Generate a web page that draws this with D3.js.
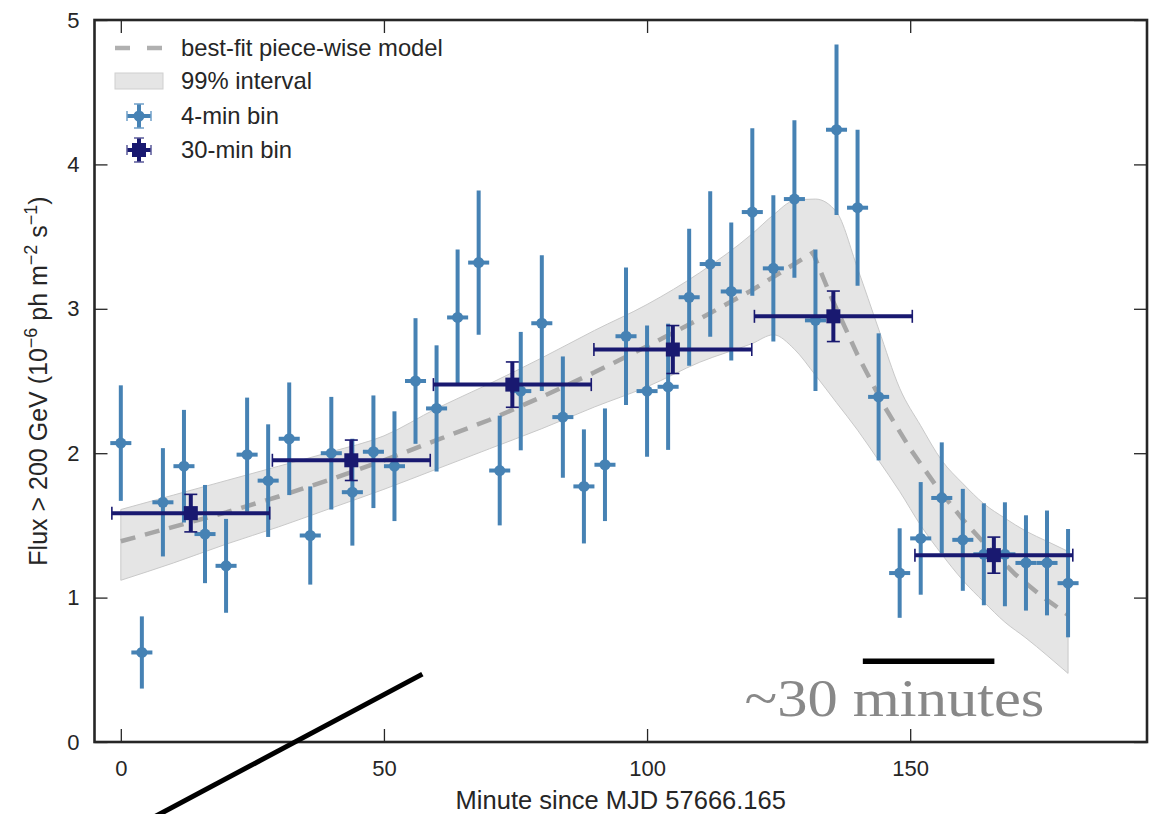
<!DOCTYPE html>
<html>
<head>
<meta charset="utf-8">
<script src="https://cdn.jsdelivr.net/npm/d3@7"></script>
<style>
  body { margin: 0; background: #fff; }
  svg text { font-family: "Liberation Sans", Arial, Helvetica, sans-serif; fill: #262626; }
</style>
</head>
<body>
<svg id="chart" width="1161" height="814"></svg>
<script>
// ---- 4-minute bins ----
const minutes4 = [0, 4, 8, 12, 16, 20, 24, 28, 32, 36, 40, 44, 48, 52, 56, 60, 64, 68, 72, 76,
                  80, 84, 88, 92, 96, 100, 104, 108, 112, 116, 120, 124, 128, 132, 136, 140,
                  144, 148, 152, 156, 160, 164, 168, 172, 176, 180];
const flux4 = [2.07, 0.62, 1.66, 1.91, 1.44, 1.22, 1.99, 1.81, 2.10, 1.43, 2.00, 1.73, 2.01, 1.91,
               2.50, 2.31, 2.94, 3.32, 1.88, 2.43, 2.90, 2.25, 1.77, 1.92, 2.81, 2.43, 2.46, 3.08,
               3.31, 3.12, 3.67, 3.28, 3.76, 2.92, 4.24, 3.70, 2.39, 1.17, 1.41, 1.69, 1.40, 1.30,
               1.30, 1.24, 1.24, 1.10];
const fluxErr4 = [0.40, 0.25, 0.375, 0.39, 0.34, 0.325, 0.395, 0.39, 0.39, 0.34, 0.39, 0.37, 0.39,
                  0.38, 0.435, 0.437, 0.47, 0.50, 0.38, 0.41, 0.47, 0.42, 0.395, 0.39, 0.476, 0.455,
                  0.437, 0.474, 0.504, 0.478, 0.58, 0.507, 0.545, 0.49, 0.59, 0.54, 0.44, 0.31, 0.39,
                  0.385, 0.353, 0.353, 0.36, 0.33, 0.363, 0.375];
const binHalf4 = 2;

// ---- 30-minute bins ----
const minutes30 = [13.3, 43.8, 74.4, 104.9, 135.4, 165.9];
const flux30 = [1.585, 1.951, 2.475, 2.718, 2.948, 1.294];
const fluxErr30 = [0.13, 0.14, 0.157, 0.166, 0.175, 0.125];
const binHalf30 = 15;

// ---- best-fit piece-wise model ----
const modelMinutes = [0, 10, 20, 30, 40, 50, 60, 70, 80, 90, 100, 110, 120, 131.5,
                      135, 140, 145, 150, 155, 160, 165, 170, 175, 180];
const modelFlux = [1.39, 1.49, 1.59, 1.70, 1.82, 1.95, 2.09, 2.23, 2.39, 2.56, 2.74, 2.93, 3.13, 3.39,
                   3.08, 2.68, 2.33, 2.03, 1.77, 1.54, 1.34, 1.16, 1.01, 0.88];

// ---- 99% interval ----
const bandMinutes = [0, 10, 20, 30, 40, 50, 60, 70, 80, 90, 100, 110, 120, 124, 128, 132, 136, 140,
                     144, 148, 152, 156, 160, 164, 168, 172, 176, 180];
const bandHigh = [1.61, 1.71, 1.81, 1.91, 2.01, 2.12, 2.31, 2.48, 2.66, 2.85, 3.03, 3.25, 3.52, 3.65,
                  3.75, 3.76, 3.67, 3.28, 2.86, 2.45, 2.19, 1.95, 1.79, 1.65, 1.55, 1.46, 1.39, 1.32];
const bandLow = [1.12, 1.24, 1.37, 1.49, 1.62, 1.75, 1.89, 2.03, 2.17, 2.32, 2.46, 2.63, 2.76, 2.82,
                 2.72, 2.54, 2.35, 2.16, 1.95, 1.735, 1.50, 1.30, 1.12, 0.97, 0.83, 0.72, 0.60, 0.475];

// ---- axis ticks and labels ----
const xTicks = [0, 50, 100, 150];
const yTicks = [0, 1, 2, 3, 4, 5];
const legendLabels = ["best-fit piece-wise model", "99% interval", "4-min bin", "30-min bin"];

// ---- annotations (data units) ----
const slashLine = [[57.3, 0.47], [-4, -0.72]];
const scaleBar = [[141, 0.56], [166, 0.56]];
const scaleText = { minute: 147, flux: 0.18, label: "~30 minutes" };

// ---------------------------------------------------------------
const W = 1161, H = 814;
const plot = { left: 94.5, right: 1147, top: 20, bottom: 742 };
const C4 = "#4682b4", C30 = "#191970";

const svg = d3.select("#chart");
svg.append("rect").attr("width", W).attr("height", H).attr("fill", "#fff");

const x = d3.scaleLinear().domain([-5, 195]).range([plot.left, plot.right]);
const y = d3.scaleLinear().domain([0, 5]).range([plot.bottom, plot.top]);

// interval band
const band = bandMinutes.map((m, i) => ({ m, lo: bandLow[i], hi: bandHigh[i] }));
svg.append("path")
  .datum(band)
  .attr("d", d3.area().x(d => x(d.m)).y0(d => y(d.lo)).y1(d => y(d.hi)).curve(d3.curveMonotoneX))
  .attr("fill", "#e5e5e5")
  .attr("stroke", "#c9c9c9")
  .attr("stroke-width", 1);

// model
svg.append("path")
  .datum(modelMinutes.map((m, i) => [m, modelFlux[i]]))
  .attr("d", d3.line().x(d => x(d[0])).y(d => y(d[1])))
  .attr("fill", "none")
  .attr("stroke", "#a6a6a6")
  .attr("stroke-width", 4.5)
  .attr("stroke-dasharray", "15,10");

// 4-min points
const g4 = svg.append("g");
const pts4 = minutes4.map((m, i) => ({ m, f: flux4[i], e: fluxErr4[i] }));
const p4 = g4.selectAll("g").data(pts4).join("g");
p4.append("line")
  .attr("x1", d => x(d.m)).attr("x2", d => x(d.m))
  .attr("y1", d => y(d.f - d.e)).attr("y2", d => y(d.f + d.e))
  .attr("stroke", C4).attr("stroke-width", 4);
p4.append("line")
  .attr("x1", d => x(d.m - binHalf4)).attr("x2", d => x(d.m + binHalf4))
  .attr("y1", d => y(d.f)).attr("y2", d => y(d.f))
  .attr("stroke", C4).attr("stroke-width", 4);
p4.append("circle")
  .attr("cx", d => x(d.m)).attr("cy", d => y(d.f)).attr("r", 5.5)
  .attr("fill", C4);

// 30-min points
const g30 = svg.append("g");
const pts30 = minutes30.map((m, i) => ({ m, f: flux30[i], e: fluxErr30[i] }));
const p30 = g30.selectAll("g").data(pts30).join("g");
p30.append("line")
  .attr("x1", d => x(d.m - binHalf30)).attr("x2", d => x(d.m + binHalf30))
  .attr("y1", d => y(d.f)).attr("y2", d => y(d.f))
  .attr("stroke", C30).attr("stroke-width", 4);
p30.append("line")
  .attr("x1", d => x(d.m)).attr("x2", d => x(d.m))
  .attr("y1", d => y(d.f - d.e)).attr("y2", d => y(d.f + d.e))
  .attr("stroke", C30).attr("stroke-width", 4);
// caps
const capHalf = 6.5;
p30.each(function (d) {
  const g = d3.select(this);
  [d.f - d.e, d.f + d.e].forEach(v => {
    g.append("line")
      .attr("x1", x(d.m) - capHalf).attr("x2", x(d.m) + capHalf)
      .attr("y1", y(v)).attr("y2", y(v))
      .attr("stroke", C30).attr("stroke-width", 1.6);
  });
  [d.m - binHalf30, d.m + binHalf30].forEach(m => {
    g.append("line")
      .attr("x1", x(m)).attr("x2", x(m))
      .attr("y1", y(d.f) - capHalf).attr("y2", y(d.f) + capHalf)
      .attr("stroke", C30).attr("stroke-width", 1.6);
  });
});
p30.append("rect")
  .attr("x", d => x(d.m) - 7).attr("y", d => y(d.f) - 7)
  .attr("width", 14).attr("height", 14)
  .attr("fill", C30);

// axes (inward ticks on all four sides)
const tickLen = 13;
function styleAxis(g) {
  g.select(".domain").remove();
  g.selectAll(".tick line").attr("stroke", "#262626").attr("stroke-width", 1.3);
  g.selectAll(".tick text").attr("font-size", 22).attr("fill", "#262626")
    .attr("font-family", "Liberation Sans, Arial, sans-serif");
}
svg.append("g").attr("transform", `translate(0,${plot.bottom})`)
  .call(d3.axisBottom(x).tickValues(xTicks).tickSize(-tickLen).tickPadding(18).tickFormat(d3.format("d")))
  .call(styleAxis);
svg.append("g").attr("transform", `translate(0,${plot.top})`)
  .call(d3.axisTop(x).tickValues(xTicks).tickSize(-tickLen).tickFormat(""))
  .call(styleAxis);
svg.append("g").attr("transform", `translate(${plot.left},0)`)
  .call(d3.axisLeft(y).tickValues(yTicks).tickSize(-tickLen).tickPadding(15).tickFormat(d3.format("d")))
  .call(styleAxis);
svg.append("g").attr("transform", `translate(${plot.right},0)`)
  .call(d3.axisRight(y).tickValues(yTicks).tickSize(-tickLen).tickFormat(""))
  .call(styleAxis);

// frame
svg.append("rect")
  .attr("x", plot.left).attr("y", plot.top)
  .attr("width", plot.right - plot.left).attr("height", plot.bottom - plot.top)
  .attr("fill", "none").attr("stroke", "#262626").attr("stroke-width", 2.6);

// axis titles
svg.append("text")
  .attr("x", (plot.left + plot.right) / 2).attr("y", 809)
  .attr("text-anchor", "middle").attr("font-size", 25.5)
  .text("Minute since MJD 57666.165");

const yl = svg.append("text")
  .attr("transform", `translate(47,${(plot.top + plot.bottom) / 2}) rotate(-90)`)
  .attr("text-anchor", "middle").attr("font-size", 25);
yl.append("tspan").text("Flux > 200 GeV (10");
yl.append("tspan").attr("baseline-shift", "super").attr("font-size", 18).text("\u22126");
yl.append("tspan").text(" ph m");
yl.append("tspan").attr("baseline-shift", "super").attr("font-size", 18).text("\u22122");
yl.append("tspan").text(" s");
yl.append("tspan").attr("baseline-shift", "super").attr("font-size", 18).text("\u22121");
yl.append("tspan").text(")");

// legend
const lg = svg.append("g");
const rowY = [48, 81, 116, 150];
const hx = 139, textX = 181;
lg.append("line").attr("x1", hx - 24).attr("x2", hx + 24).attr("y1", rowY[0]).attr("y2", rowY[0])
  .attr("stroke", "#b0b0b0").attr("stroke-width", 4.5).attr("stroke-dasharray", "15,17");
lg.append("rect").attr("x", hx - 24).attr("y", rowY[1] - 8).attr("width", 48).attr("height", 16)
  .attr("fill", "#e5e5e5").attr("stroke", "#cfcfcf").attr("stroke-width", 1);
// 4-min handle
(function () {
  const cy = rowY[2];
  lg.append("line").attr("x1", hx).attr("x2", hx).attr("y1", cy - 12).attr("y2", cy + 12)
    .attr("stroke", C4).attr("stroke-width", 4);
  lg.append("line").attr("x1", hx - 12).attr("x2", hx + 12).attr("y1", cy).attr("y2", cy)
    .attr("stroke", C4).attr("stroke-width", 4);
  [-12, 12].forEach(dx => lg.append("line")
    .attr("x1", hx + dx).attr("x2", hx + dx).attr("y1", cy - 5).attr("y2", cy + 5)
    .attr("stroke", "#6f9fc8").attr("stroke-width", 1.5));
  [-12, 12].forEach(dy => lg.append("line")
    .attr("x1", hx - 5).attr("x2", hx + 5).attr("y1", cy + dy).attr("y2", cy + dy)
    .attr("stroke", "#6f9fc8").attr("stroke-width", 1.5));
  lg.append("circle").attr("cx", hx).attr("cy", cy).attr("r", 5.5).attr("fill", C4);
})();
// 30-min handle
(function () {
  const cy = rowY[3];
  lg.append("line").attr("x1", hx).attr("x2", hx).attr("y1", cy - 12).attr("y2", cy + 12)
    .attr("stroke", C30).attr("stroke-width", 4);
  lg.append("line").attr("x1", hx - 12).attr("x2", hx + 12).attr("y1", cy).attr("y2", cy)
    .attr("stroke", C30).attr("stroke-width", 4);
  [-12, 12].forEach(dx => lg.append("line")
    .attr("x1", hx + dx).attr("x2", hx + dx).attr("y1", cy - 5).attr("y2", cy + 5)
    .attr("stroke", "#5a5a9a").attr("stroke-width", 1.5));
  [-12, 12].forEach(dy => lg.append("line")
    .attr("x1", hx - 5).attr("x2", hx + 5).attr("y1", cy + dy).attr("y2", cy + dy)
    .attr("stroke", "#5a5a9a").attr("stroke-width", 1.5));
  lg.append("rect").attr("x", hx - 7).attr("y", cy - 7).attr("width", 14).attr("height", 14).attr("fill", C30);
})();
legendLabels.forEach((t, i) => {
  lg.append("text").attr("x", textX).attr("y", rowY[i]).attr("dy", "0.35em")
    .attr("font-size", 23.8).text(t);
});

// annotations
svg.append("line")
  .attr("x1", x(slashLine[0][0])).attr("y1", y(slashLine[0][1]))
  .attr("x2", x(slashLine[1][0])).attr("y2", y(slashLine[1][1]))
  .attr("stroke", "#000").attr("stroke-width", 5);
svg.append("line")
  .attr("x1", x(scaleBar[0][0])).attr("y1", y(scaleBar[0][1]))
  .attr("x2", x(scaleBar[1][0])).attr("y2", y(scaleBar[1][1]))
  .attr("stroke", "#000").attr("stroke-width", 5.5);
svg.append("text")
  .attr("x", x(scaleText.minute)).attr("y", y(scaleText.flux))
  .attr("text-anchor", "middle")
  .attr("font-size", 53)
  .attr("textLength", 300).attr("lengthAdjust", "spacingAndGlyphs")
  .style("fill", "#888")
  .style("font-family", "'Liberation Serif', serif")
  .text(scaleText.label);
</script>
</body>
</html>
